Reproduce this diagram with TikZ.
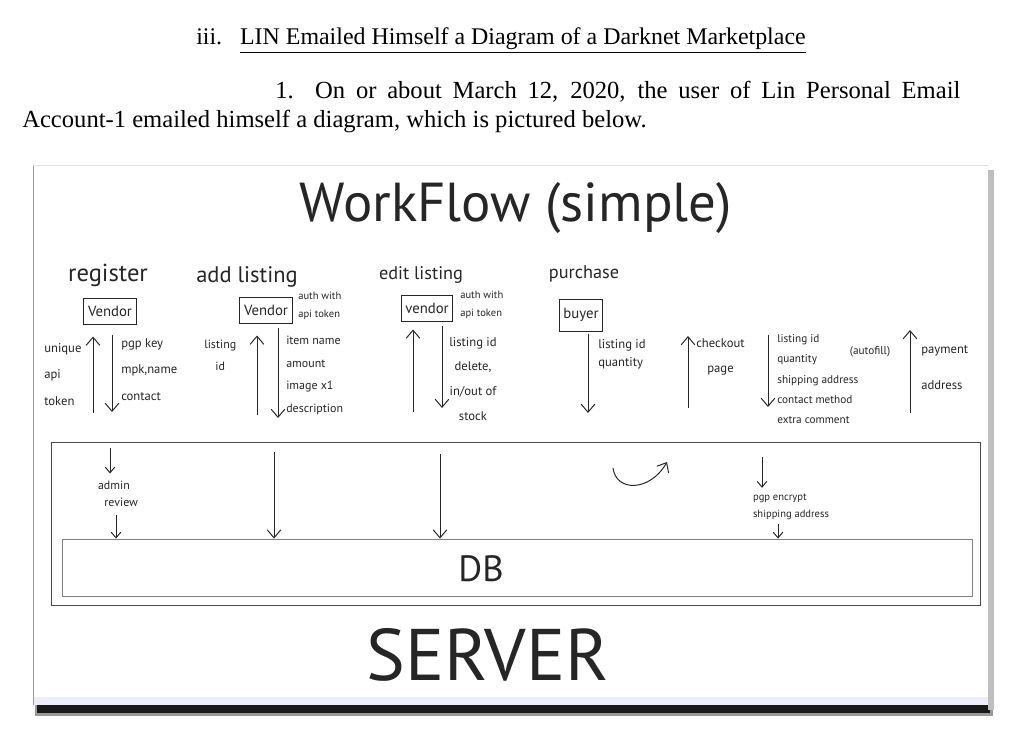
\documentclass[tikz,border=0pt]{standalone}
\usepackage{fontspec}
\setmainfont{Liberation Serif}
\newfontfamily\hand{PT Sans}
\usetikzlibrary{arrows.meta,positioning,calc}

\newcommand{\handsize}[2]{\hand\fontsize{#1}{#2}\selectfont}
\tikzset{
  pen/.style={draw=black!85, line width=0.7pt},
  flow/.style={pen, -{Straight Barb[length=0.2cm,width=0.34cm]}},
  tick/.style={pen, -{Straight Barb[length=0.14cm,width=0.24cm]}},
  hand/.style={text=black!85},
  stage/.style={hand, anchor=base, inner sep=0pt},
  note/.style={hand, anchor=north west, align=left, inner sep=0pt},
  actor/.style={pen, hand, font=\handsize{10.5}{12}, minimum height=0.65cm, inner sep=3pt},
  frame/.style={draw=black!70, line width=0.6pt},
}

\begin{document}
\begin{tikzpicture}[x=0.025cm,y=-0.025cm]
\useasboundingbox (0,0) rectangle (1025,729);
\fill[white] (0,0) rectangle (1025,729);

% heading and paragraph
\node[anchor=base west, inner sep=0pt, font=\fontsize{17}{20}\selectfont] (head) at (196,45)
  {iii.\hspace{0.75em}\underline{LIN Emailed Himself a Diagram of a Darknet Marketplace}};
\node[anchor=base west, inner sep=0pt, font=\fontsize{17.5}{20}\selectfont] (para1) at (275,99)
  {\makebox[17.125cm][s]{1.\ \ On or about March 12, 2020, the user of Lin Personal Email}};
\node[anchor=base west, inner sep=0pt, font=\fontsize{17.5}{20}\selectfont] (para2) at (22,128)
  {Account-1 emailed himself a diagram, which is pictured below.};

% the sheet with its shadow
\fill[black!40] (35,699) rectangle (993,716);
\fill[black!90] (37,702) rectangle (990,713);
\fill[black!25] (988,170) rectangle (994,710);
\fill[white] (33,165) rectangle (988,705);
\fill[blue!7] (33,697) rectangle (988,705);
\draw[black!40] (33,165) -- (33,705);
\draw[black!12] (33,165) -- (988,165);

\node[hand, font=\handsize{39}{42}] (title) at (516,208) {WorkFlow (simple)};

% register
\node[stage, font=\handsize{17.5}{20}] (lreg) at (108,281) {register};
\node[actor] (vreg) at (110,311) {Vendor};
\coordinate (reg-up) at (93,413);
\coordinate (reg-dn) at (112,412);
\draw[flow, shorten >=0.3cm] (reg-up) -- (reg-up |- vreg.south);
\draw[flow, shorten <=0.25cm] (vreg.south -| reg-dn) -- (reg-dn);
\node[note, font=\handsize{9}{19}] (nreg-l) at (44,343) {unique\\api\\token};
\node[note, font=\handsize{9}{19}] (nreg-r) at (121,338) {pgp key\\mpk,name\\contact};

% add listing
\node[stage, font=\handsize{16}{20}] (ladd) at (247,282) {add listing};
\node[actor] (vadd) at (266,310) {Vendor};
\node[note, font=\handsize{7.5}{12.5}] (auth-add) at (298,292) {auth with\\api token};
\coordinate (add-up) at (257,415);
\coordinate (add-dn) at (278,418);
\draw[flow, shorten >=0.3cm] (add-up) -- (add-up |- vadd.south);
\draw[flow, shorten <=0.12cm] (vadd.south -| add-dn) -- (add-dn);
\node[note, align=center, font=\handsize{8.5}{15.5}] (nadd-l) at (204,340) {listing\\id};
\node[note, font=\handsize{8.5}{16}] (nadd-r) at (286,336) {item name\\amount\\image x1\\description};

% edit listing
\node[stage, font=\handsize{13}{16}] (ledit) at (421,279) {edit listing};
\node[actor] (vedit) at (427,308) {vendor};
\node[note, font=\handsize{7.5}{12.5}] (auth-edit) at (460,291) {auth with\\api token};
\coordinate (edit-up) at (413,412);
\coordinate (edit-dn) at (442,408);
\draw[flow, shorten >=0.2cm] (edit-up) -- (edit-up |- vedit.south);
\draw[flow, shorten <=0.12cm] (vedit.south -| edit-dn) -- (edit-dn);
\node[note, align=center, font=\handsize{9}{17.5}] (nedit) at (449,337) {listing id\\delete,\\in/out of\\stock};

% purchase
\node[stage, font=\handsize{13}{16}] (lbuy) at (584,278) {purchase};
\node[actor, minimum height=0.8cm] (vbuy) at (581,315) {buyer};
\coordinate (buy-dn) at (588,413);
\draw[flow, shorten <=0.05cm] (vbuy.south -| buy-dn) -- (buy-dn);
\node[note, font=\handsize{9}{13}] (nbuy) at (598,339) {listing id\\quantity};

\coordinate (page-a) at (688,408);
\coordinate (page-b) at (688,336);
\draw[flow] (page-a) -- (page-b);
\node[note, align=center, font=\handsize{9}{18}] (npage) at (696,338) {checkout\\page};

\coordinate (order-a) at (768,335);
\coordinate (order-b) at (768,407);
\draw[flow] (order-a) -- (order-b);
\node[note, font=\handsize{8}{14.5}] (norder) at (777,334) {listing id\\quantity\\shipping address\\contact method\\extra comment};
\node[hand, font=\handsize{8}{10}] (autofill) at (870,352) {(autofill)};

\coordinate (pay-a) at (910,413);
\coordinate (pay-b) at (910,330);
\draw[flow] (pay-a) -- (pay-b);
\node[note, font=\handsize{9}{26}] (npay) at (921,345) {payment\\address};

% server
\node[frame, minimum width=23.2cm, minimum height=4.075cm] (server) at (516,523.5) {};
\node[frame, draw=black!50, minimum width=22.725cm, minimum height=1.425cm] (db) at (517.5,567.5) {};
\node[hand, font=\handsize{26}{30}] (dblabel) at (481,569) {DB};
\node[hand, font=\handsize{52}{56}] (serverlabel) at (488,655) {SERVER};

\node[hand, align=left, font=\handsize{8.5}{12}] (admin) at (118,494) {admin\\\ \ review};
\coordinate (admin-in) at (110,448);
\draw[tick] (admin-in) -- ([yshift=2pt]admin.north -| admin-in);
\coordinate (admin-out) at (116,515);
\draw[tick] (admin-out) -- (admin-out |- db.north);

\coordinate (add-in) at (274,452);
\draw[flow] (add-in) -- (add-in |- db.north);
\coordinate (edit-in) at (440,454);
\draw[flow] (edit-in) -- (edit-in |- db.north);

\coordinate (loop-a) at (613,468);
\coordinate (loop-b) at (667,462);
\draw[flow] (loop-a) .. controls (616,492) and (650,492) .. (loop-b);

\node[hand, align=left, font=\handsize{7.5}{12}] (pgp) at (791,507) {pgp encrypt\\shipping address};
\coordinate (pgp-in) at (762,457);
\draw[tick] (pgp-in) -- ([yshift=1pt]pgp.north -| pgp-in);
\coordinate (pgp-out) at (778,524);
\draw[tick] (pgp-out) -- (pgp-out |- db.north);
\end{tikzpicture}
\end{document}
